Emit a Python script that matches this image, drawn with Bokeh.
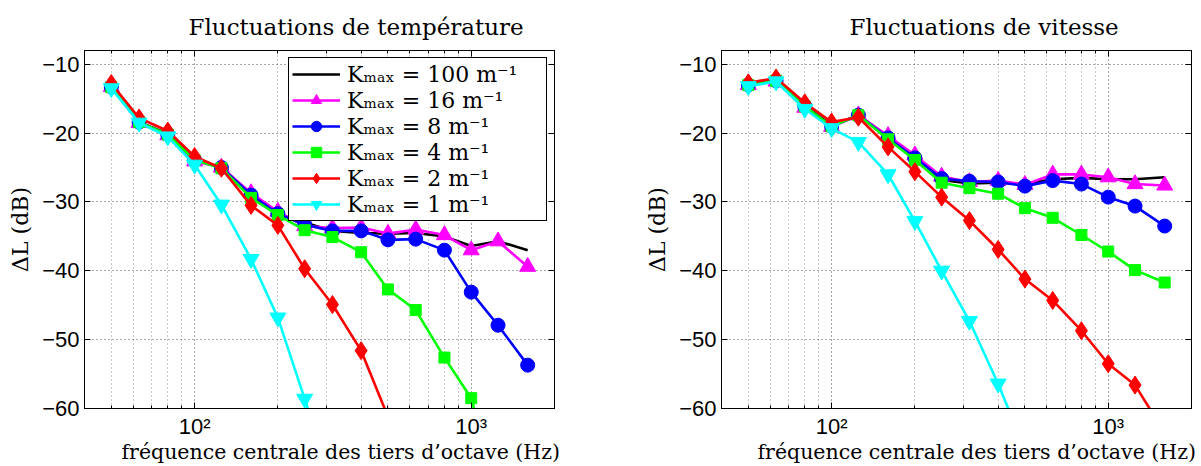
from bokeh.plotting import figure
from bokeh.layouts import row
from bokeh.models import (Range1d, FixedTicker, Legend, LegendItem, Title,
                          LinearAxis, LogAxis)
from bokeh.embed import file_html
from bokeh.resources import INLINE

# ---------------- data ----------------
freqs = [50, 63, 80, 100, 125, 160, 200, 250, 315, 400, 500, 630, 800, 1000, 1250, 1600]

kmax_values = ["100", "16", "8", "4", "2", "1"]

# Fluctuations de température
temp_k100 = [-13.2, -18.4, -20.1, -23.8, -25.0, -28.9, -31.7, -33.0, -34.2, -34.5, -34.6, -34.5, -35.0, -36.4, -35.7, -37.0]
temp_k16 = [-13.3, -18.5, -20.3, -24.1, -25.0, -28.7, -31.4, -33.5, -33.8, -33.7, -34.6, -34.0, -34.8, -37.0, -35.7, -39.4]
temp_k8 = [-13.3, -18.4, -20.2, -23.9, -25.0, -29.0, -31.7, -33.3, -34.2, -34.2, -35.5, -35.4, -37.0, -43.1, -47.9, -53.7]
temp_k4 = [-13.3, -18.4, -20.2, -23.9, -25.1, -29.4, -31.9, -34.1, -35.1, -37.3, -42.7, -45.7, -52.6, -58.5, -73.0]
temp_k2 = [-12.8, -17.8, -19.7, -23.4, -25.1, -30.5, -33.4, -39.7, -44.9, -51.6, -61.2]
temp_k1 = [-13.5, -18.5, -20.5, -24.6, -30.4, -38.3, -46.8, -58.6, -71.0]

# Fluctuations de vitesse
vit_k100 = [-12.9, -12.4, -16.0, -18.9, -17.4, -20.5, -23.3, -26.8, -27.3, -27.2, -27.4, -26.7, -26.5, -26.7, -26.7, -26.4]
vit_k16 = [-13.0, -12.5, -16.3, -19.1, -17.4, -20.4, -23.2, -26.3, -27.1, -26.9, -27.5, -26.0, -26.0, -26.4, -27.4, -27.6]
vit_k8 = [-13.0, -12.4, -16.1, -19.0, -17.4, -20.7, -23.6, -26.6, -27.0, -27.1, -27.7, -26.9, -27.4, -29.3, -30.6, -33.5]
vit_k4 = [-13.0, -12.4, -16.1, -19.0, -17.4, -20.9, -23.9, -27.2, -28.0, -28.8, -30.9, -32.3, -34.8, -37.2, -39.9, -41.7]
vit_k2 = [-12.7, -12.0, -15.6, -18.4, -17.7, -22.0, -25.6, -29.3, -32.7, -36.9, -41.2, -44.3, -48.7, -53.5, -56.6, -63.5]
vit_k1 = [-13.2, -12.5, -16.5, -19.3, -21.3, -26.0, -32.8, -40.0, -47.3, -56.4, -66.0]

y_ticks = [-60, -50, -40, -30, -20, -10]
y_tick_labels = ["−60", "−50", "−40", "−30", "−20", "−10"]
x_major = [100, 1000]
x_major_labels = ["10²", "10³"]
x_minor = [40, 50, 60, 70, 80, 90, 200, 300, 400, 500, 600, 700, 800, 900, 2000]

titles = ["Fluctuations de température", "Fluctuations de vitesse"]
x_label = "fréquence centrale des tiers d’octave (Hz)"
y_label = "ΔL (dB)"

# ---------------- styles ----------------
STYLES = [
    ("#000000", None, 0),
    ("#ff00ff", "triangle", 16),
    ("#0000ff", "circle", 14),
    ("#00ff00", "square", 11),
    ("#ff0000", "diamond", 18),
    ("#00ffff", "inverted_triangle", 16),
]
SERIF = "DejaVu Serif"
SANS = "Liberation Sans"


def style_axis(ax, size="22px"):
    ax.major_tick_in = 6
    ax.major_tick_out = 0
    ax.minor_tick_in = 3
    ax.minor_tick_out = 0
    ax.major_tick_line_color = "black"
    ax.minor_tick_line_color = "black"
    ax.axis_line_color = "black"
    ax.major_label_text_font = SANS
    ax.major_label_text_font_size = size
    ax.major_label_text_color = "black"


def make_fig(title, series, border_left, border_right, title_offset, xlab_offset, with_legend):
    p = figure(x_axis_type="log", x_range=Range1d(40, 2000), y_range=Range1d(-60, -8),
               frame_width=470, frame_height=358,
               min_border_left=border_left, min_border_right=border_right,
               min_border_top=49, min_border_bottom=59,
               output_backend="svg", toolbar_location=None)
    p.background_fill_color = "white"
    p.border_fill_color = "white"
    p.outline_line_color = "black"
    p.outline_line_width = 1
    p.outline_line_alpha = 1

    xt = FixedTicker(ticks=x_major, minor_ticks=x_minor)
    yt = FixedTicker(ticks=y_ticks, minor_ticks=[])
    p.xaxis.ticker = xt
    p.yaxis.ticker = yt
    p.xaxis.major_label_overrides = dict(zip(x_major, x_major_labels))
    p.yaxis.major_label_overrides = dict(zip(y_ticks, y_tick_labels))
    style_axis(p.xaxis[0])
    style_axis(p.yaxis[0])
    p.xaxis.major_label_standoff = 5
    p.yaxis.major_label_standoff = 5
    p.yaxis.axis_label = y_label
    p.yaxis.axis_label_text_font = SERIF
    p.yaxis.axis_label_text_font_size = "22px"
    p.yaxis.axis_label_text_font_style = "normal"
    p.yaxis.axis_label_text_color = "black"
    p.yaxis.axis_label_standoff = 6

    # inward ticks on the top and right edges of the box
    top = LogAxis(ticker=xt, major_label_standoff=0)
    style_axis(top, "1px")
    top.major_label_text_alpha = 0
    right = LinearAxis(ticker=yt, major_label_standoff=0)
    style_axis(right, "1px")
    right.major_label_text_alpha = 0
    p.add_layout(top, "above")
    p.add_layout(right, "right")

    for g in (p.xgrid[0], p.ygrid[0]):
        g.grid_line_color = "black"
        g.grid_line_alpha = 0.7
        g.grid_line_dash = "1 3"
        g.grid_line_width = 1
    p.xgrid.minor_grid_line_color = "#7f7f7f"
    p.xgrid.minor_grid_line_alpha = 0.8
    p.xgrid.minor_grid_line_dash = "1 3"

    p.title.text = title
    p.title.text_font = SERIF
    p.title.text_font_size = "23px"
    p.title.text_font_style = "normal"
    p.title.text_color = "black"
    p.title.align = "left"
    p.title.offset = title_offset
    p.title.standoff = 22

    p.add_layout(Title(text=x_label, text_font=SERIF, text_font_size="20.5px",
                       text_font_style="normal", text_color="black",
                       align="left", offset=xlab_offset,
                       vertical_align="top", standoff=-4), "below")

    items = []
    for lab, (color, marker, size), ys in zip(kmax_values, STYLES, series):
        fx = freqs[:len(ys)]
        rl = p.line(fx, ys, line_color=color, line_width=2.6)
        rends = [rl]
        if marker:
            rs = p.scatter(fx, ys, marker=marker, size=size, fill_color=color,
                           line_color=color, line_width=1)
            rends.append(rs)
        items.append(LegendItem(label=f"Kₘₐₓ = {lab} m⁻¹", renderers=rends))

    if with_legend:
        leg = Legend(items=items, location="top_right", margin=7,
                     glyph_width=48, glyph_height=26, spacing=0, padding=3,
                     label_standoff=7, label_width=196, label_text_font=SERIF,
                     label_text_font_size="22px", label_text_color="black",
                     border_line_color="black", border_line_width=1,
                     border_line_alpha=1,
                     background_fill_color="white", background_fill_alpha=1)
        p.add_layout(leg)
    return p


p1 = make_fig(titles[0], [temp_k100, temp_k16, temp_k8, temp_k4, temp_k2, temp_k1],
              84, 46, 104, 37, True)
p2 = make_fig(titles[1], [vit_k100, vit_k16, vit_k8, vit_k4, vit_k2, vit_k1],
              121, 10, 128, 36, False)

layout = row(p1, p2, spacing=0)
open("out.html", "w").write(file_html(layout, INLINE))
